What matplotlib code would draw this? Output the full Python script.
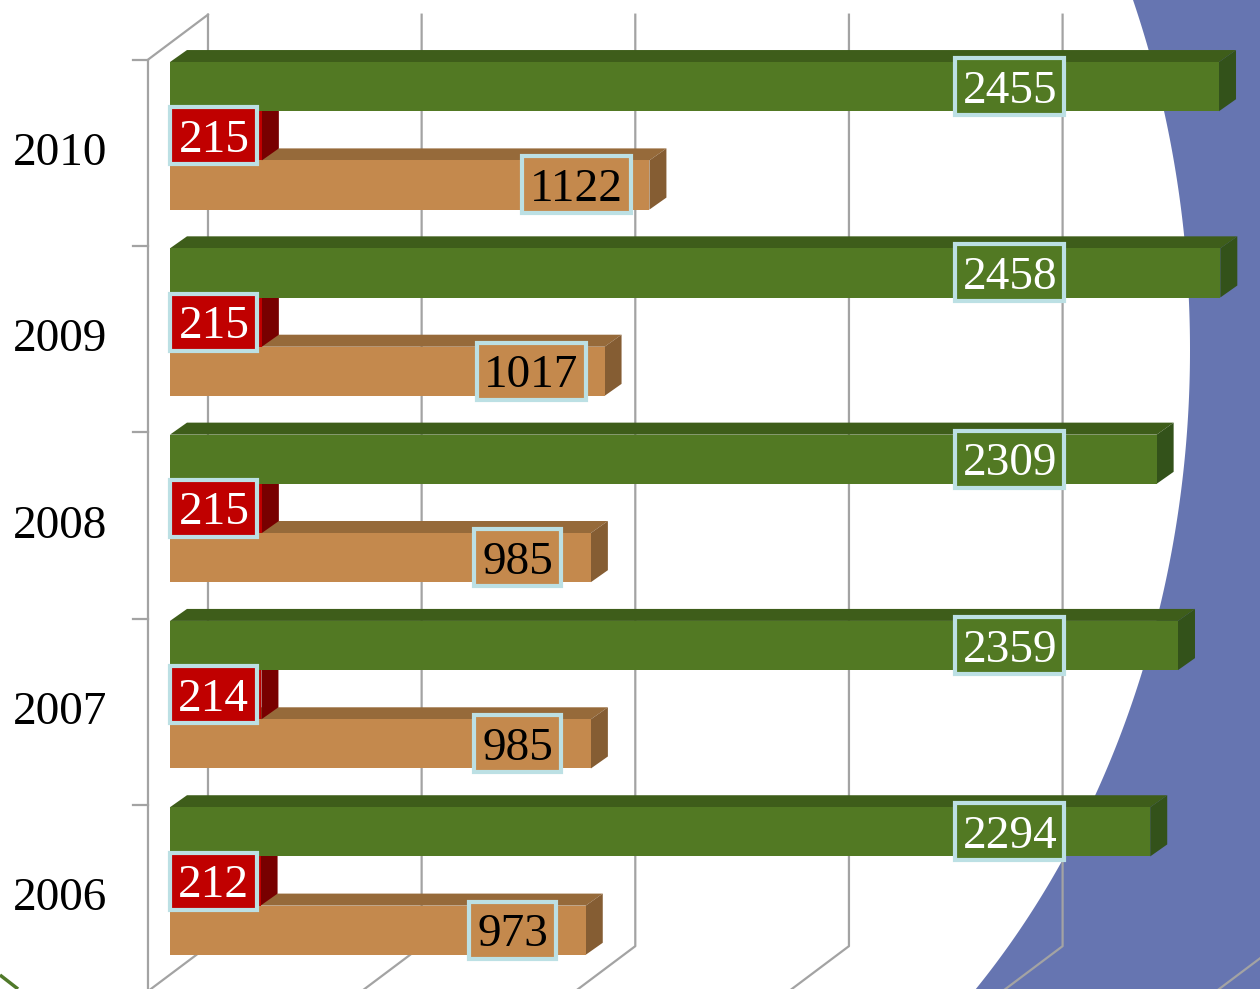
import matplotlib
matplotlib.use("Agg")
import matplotlib.pyplot as plt
import numpy as np
from matplotlib.patches import Polygon, Rectangle

# data (bottom to top)
years = ["2006", "2007", "2008", "2009", "2010"]
green_vals = [2294, 2359, 2309, 2458, 2455]
red_vals = [212, 214, 215, 215, 215]
tan_vals = [973, 985, 985, 1017, 1122]
grid_ticks = [0, 500, 1000, 1500, 2000, 2500]

plt.rcParams["font.family"] = ["Liberation Serif", "DejaVu Serif"]

W, H = 1260, 989
fig = plt.figure(figsize=(W / 100, H / 100), dpi=100)
fig.patch.set_facecolor("white")

# slide decoration behind the chart
bg = fig.add_axes([0, 0, 1, 1])
bg.set_xlim(0, W)
bg.set_ylim(H, 0)
bg.axis("off")
yy = np.linspace(0, H, 300)
xx = 466 + 724 * np.sqrt(1 - ((yy - 350) / 900) ** 2)
bg.fill(np.r_[xx, W, W], np.r_[yy, H, 0], color="#6675B1", lw=0)
bg.plot([0, 18], [975, 989], color="#50792A", lw=2.5, solid_capstyle="butt")

# chart axes: x = value, y = category index (bar front plane)
ax = fig.add_axes([0, 0, 1, 1])
ax.set_facecolor("none")
x0, x1 = -397.8, 2550.9
y0, y1 = -0.5797, 4.729
ax.set_xlim(x0, x1)
ax.set_ylim(y0, y1)
ax.axis("off")
sx = W / (x1 - x0)
sy = H / (y1 - y0)


def P(v, y, dx=0, dy=0):
    # shift a data point by a pixel offset (3D depth)
    return (v + dx / sx, y + dy / sy)


FRONT = (-22, -17)
BACK = (38, 28)
DEPTH = (17, 12)
grid_c = "#A3A3A3"
n = len(years)
FS = 34

# walls / floor
for v in grid_ticks:
    a = P(v, -0.5, *BACK)
    b = P(v, n - 0.5, *BACK)
    c = P(v, -0.5, *FRONT)
    ax.plot([c[0], a[0], b[0]], [c[1], a[1], b[1]], color=grid_c, lw=1.6, zorder=1)
f0 = P(0, -0.5, *FRONT)
f1 = P(0, n - 0.5, *FRONT)
bt = P(0, n - 0.5, *BACK)
ax.plot([f0[0], f1[0], bt[0]], [f0[1], f1[1], bt[1]], color=grid_c, lw=1.6, zorder=1)
for k in range(n + 1):
    t0 = P(0, k - 0.5, *FRONT)
    t1 = P(0, k - 0.5, FRONT[0] - 15, FRONT[1])
    ax.plot([t1[0], t0[0]], [t1[1], t0[1]], color=grid_c, lw=1.6, zorder=1)

h = 0.264
series = [
    (tan_vals, -h, "#C4894D", "#966A3A", "#855D33", "black"),
    (red_vals, 0.0, "#C00000", "#8E0000", "#780000", "white"),
    (green_vals, h, "#527923", "#3E5D1A", "#33521A", "white"),
]
edge_c = "#BCE0E4"


def label(cx, cy, txt, fc, tc):
    bw = 22 * len(txt) + 21
    bh = 57
    ax.add_patch(Rectangle(P(cx, cy, -bw / 2, -bh / 2), bw / sx, bh / sy,
                           fc=fc, ec=edge_c, lw=3, zorder=10))
    ax.text(*P(cx, cy, 0, -16), txt, ha="center", va="baseline", fontsize=FS,
            color=tc, zorder=11)


for i in range(n):
    for s, (vals, dy, c_front, c_top, c_side, tc) in enumerate(series):
        v = vals[i]
        yb = i + dy - h / 2
        yt = i + dy + h / 2
        z = 3 + s
        ax.add_patch(Polygon([(0, yt), P(0, yt, *DEPTH), P(v, yt, *DEPTH), (v, yt)],
                             closed=True, fc=c_top, lw=0, zorder=z))
        ax.add_patch(Polygon([(v, yb), (v, yt), P(v, yt, *DEPTH), P(v, yb, *DEPTH)],
                             closed=True, fc=c_side, lw=0, zorder=z))
        ax.add_patch(Rectangle((0, yb), v, h, fc=c_front, lw=0, zorder=z))

        if s == 0:
            lx = P(v, 0, -73)[0]
        elif s == 1:
            lx = P(v / 2, 0, -2)[0]
        else:
            lx = P(0, 0, 1010 - 170)[0]
        label(lx, i + dy, str(v), c_front, tc)

    yl = P(0, i, 0, -18)
    ax.text(P(0, 0, 107 - 170)[0], yl[1], years[i], ha="right", va="center",
            fontsize=FS, color="black")

fig.savefig("out.png", dpi=100, facecolor="white")
